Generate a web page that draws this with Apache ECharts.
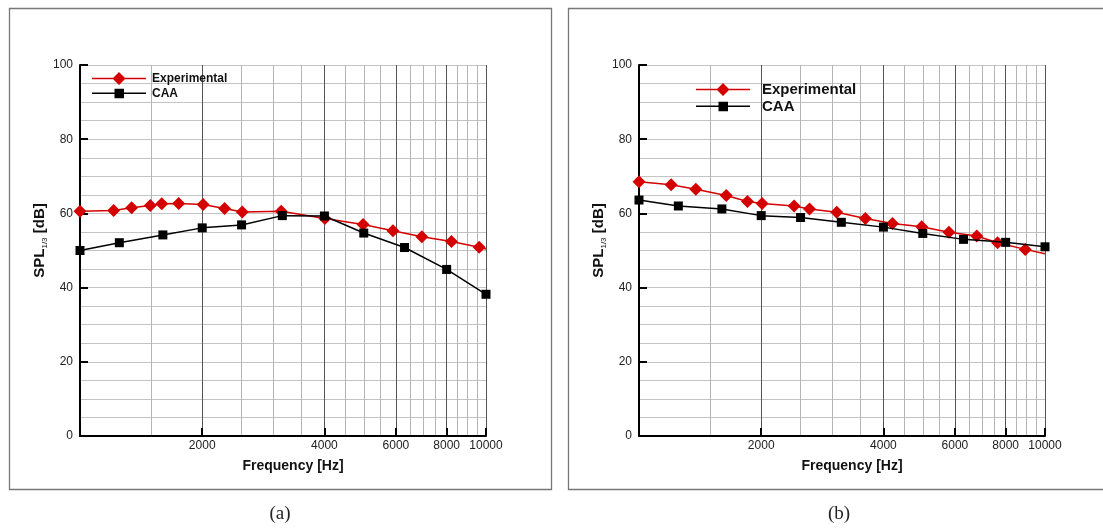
<!DOCTYPE html>
<html>
<head>
<meta charset="utf-8">
<script src="https://cdn.jsdelivr.net/npm/echarts@6/dist/echarts.min.js"></script>
<style>
html,body{margin:0;padding:0;background:#fff;}
#chart{width:1103px;height:528px;}
</style>
</head>
<body>
<div id="chart"></div>
<script>
// ---- data ----
var expA_f = [1000, 1210, 1340, 1490, 1590, 1750, 2010, 2270, 2510, 3130, 4010, 4980, 5900, 6950, 8220, 9620, 10000];
var expA_v = [60.6, 60.8, 61.5, 62.1, 62.6, 62.7, 62.4, 61.3, 60.4, 60.6, 58.6, 57.0, 55.3, 53.7, 52.4, 50.9, 50.4];
var caaA_f = [1000, 1250, 1600, 2000, 2500, 3150, 4000, 5000, 6300, 8000, 10000];
var caaA_v = [50.0, 52.1, 54.2, 56.1, 56.9, 59.4, 59.3, 54.7, 50.8, 44.9, 38.2];

var expB_f = [1000, 1200, 1380, 1640, 1850, 2010, 2410, 2630, 3070, 3610, 4210, 4970, 5800, 6790, 7640, 8940, 10000];
var expB_v = [68.5, 67.7, 66.5, 64.8, 63.2, 62.7, 62.0, 61.2, 60.3, 58.6, 57.3, 56.4, 54.9, 53.9, 52.1, 50.3, 49.1];
var caaB_f = [1000, 1250, 1600, 2000, 2500, 3150, 4000, 5000, 6300, 8000, 10000];
var caaB_v = [63.6, 62.0, 61.2, 59.4, 58.9, 57.6, 56.3, 54.6, 53.0, 52.2, 51.0];

var xMajorTicks = [2000, 4000, 6000, 8000, 10000];
var xMinorGrid = [1500, 2500, 3000, 3500, 4500, 5000, 5500, 6500, 7000, 7500, 8500, 9000, 9500];
var seriesNames = ['Experimental', 'CAA'];
var xName = 'Frequency [Hz]';
var panelLabels = ['(a)', '(b)'];

var FONT = 'Liberation Sans';
var RED = '#d40000';

// legend icons: line with a centred marker (line-symbol style)
var ICON_EXP = 'path://M0,5.75h54v1.5h-54z M27,0l6.5,6.5l-6.5,6.5l-6.5,-6.5z';
var ICON_CAA = 'path://M0,5.75h54v1.5h-54z M22.5,2h9.5v9.5h-9.5z';

function pts(fs, vs, edgeNoMarker) {
  return fs.map(function (f, i) {
    var item = { value: [f, vs[i]] };
    if (edgeNoMarker && i === fs.length - 1) item.symbol = 'none';
    return item;
  });
}

var grids = [
  { left: 80, top: 65, width: 406, height: 371 },
  { left: 639, top: 65, width: 406, height: 371 }
];

var xAxes = [], yAxes = [];
grids.forEach(function (g, gi) {
  xAxes.push({
    type: 'log', logBase: 10, gridIndex: gi, min: 1000, max: 10000,
    name: xName, nameLocation: 'middle', nameGap: 23,
    nameTextStyle: { fontFamily: FONT, fontSize: 14, fontWeight: 'bold', color: '#111', padding: [0, 0, 0, 20] },
    axisLine: { show: true, onZero: false, lineStyle: { color: '#000', width: 2 } },
    axisTick: { show: true, inside: true, length: 8, customValues: xMajorTicks, lineStyle: { color: '#000', width: 2 } },
    axisLabel: { show: true, customValues: xMajorTicks, margin: 4, fontFamily: FONT, fontSize: 12, color: '#222',
      formatter: function (v) { return String(Math.round(v)); } },
    splitLine: { show: true, lineStyle: { color: '#555', width: 1 } },
    minorTick: { show: false }, minorSplitLine: { show: false }
  });
  xAxes.push({
    type: 'log', logBase: 10, gridIndex: gi, min: 1000, max: 10000,
    axisLine: { show: false },
    axisTick: { show: false, customValues: xMinorGrid },
    axisLabel: { show: false, customValues: xMinorGrid },
    splitLine: { show: true, lineStyle: { color: '#b4b4b4', width: 1 } }
  });
  yAxes.push({
    type: 'value', gridIndex: gi, min: 0, max: 100, interval: 20,
    name: '{m|SPL}{s|1/3}{m| [dB]}', nameLocation: 'middle', nameRotate: 90, nameGap: 27,
    nameTextStyle: {
      padding: [0, 0, 0, 20],
      rich: {
        m: { fontFamily: FONT, fontSize: 15, fontWeight: 'bold', color: '#111', lineHeight: 18, verticalAlign: 'middle' },
        s: { fontFamily: FONT, fontSize: 8, color: '#111', lineHeight: 10, verticalAlign: 'bottom' }
      }
    },
    axisLine: { show: true, lineStyle: { color: '#000', width: 2 } },
    axisTick: { show: true, inside: true, length: 8, lineStyle: { color: '#000', width: 2 } },
    axisLabel: { margin: 7, fontFamily: FONT, fontSize: 12, color: '#222' },
    splitLine: { show: true, lineStyle: { color: '#c4c4c4', width: 1 } },
    minorTick: { show: false, splitNumber: 4 },
    minorSplitLine: { show: true, lineStyle: { color: '#c4c4c4', width: 1 } }
  });
});

function lineSeries(name, gi, fs, vs, isExp) {
  return {
    name: name, type: 'line', xAxisIndex: gi * 2, yAxisIndex: gi,
    data: pts(fs, vs, isExp),
    symbol: isExp ? 'diamond' : 'rect',
    symbolSize: isExp ? 13 : 9,
    lineStyle: { color: isExp ? RED : '#000', width: 1.5 },
    itemStyle: { color: isExp ? RED : '#000' },
    clip: false,
    animation: false,
    z: isExp ? 3 : 4
  };
}

var series = [
  lineSeries(seriesNames[0], 0, expA_f, expA_v, true),
  lineSeries(seriesNames[1], 0, caaA_f, caaA_v, false),
  lineSeries(seriesNames[0], 1, expB_f, expB_v, true),
  lineSeries(seriesNames[1], 1, caaB_f, caaB_v, false)
];

var legends = [
  { left: 92, top: 72, fs: 12, pad: 1 },
  { left: 696, top: 82, fs: 15, pad: 7 }
].map(function (l) {
  return {
    data: [
      { name: seriesNames[0], icon: ICON_EXP },
      { name: seriesNames[1], icon: ICON_CAA }
    ],
    orient: 'vertical', left: l.left, top: l.top,
    itemWidth: 54, itemHeight: 13, itemGap: 2, padding: 0,
    symbolKeepAspect: true,
    selectedMode: false,
    textStyle: { fontFamily: FONT, fontSize: l.fs, fontWeight: 'bold', color: '#111', lineHeight: 13, padding: [0, 0, 0, l.pad] }
  };
});

var graphic = [
  { type: 'rect', shape: { x: 9.5, y: 8.5, width: 542, height: 481 }, style: { fill: null, stroke: '#777', lineWidth: 1.3 }, silent: true },
  { type: 'rect', shape: { x: 568.5, y: 8.5, width: 560, height: 481 }, style: { fill: null, stroke: '#777', lineWidth: 1.3 }, silent: true },
  { type: 'text', x: 280, y: 514, style: { text: panelLabels[0], font: '19px "Liberation Serif"', fill: '#222', textAlign: 'center', textVerticalAlign: 'middle' }, silent: true },
  { type: 'text', x: 839, y: 514, style: { text: panelLabels[1], font: '19px "Liberation Serif"', fill: '#222', textAlign: 'center', textVerticalAlign: 'middle' }, silent: true }
];

var chart = echarts.init(document.getElementById('chart'), null, { renderer: 'canvas' });
chart.setOption({
  animation: false,
  backgroundColor: '#fff',
  grid: grids,
  xAxis: xAxes,
  yAxis: yAxes,
  legend: legends,
  series: series,
  graphic: graphic
});
</script>
</body>
</html>
